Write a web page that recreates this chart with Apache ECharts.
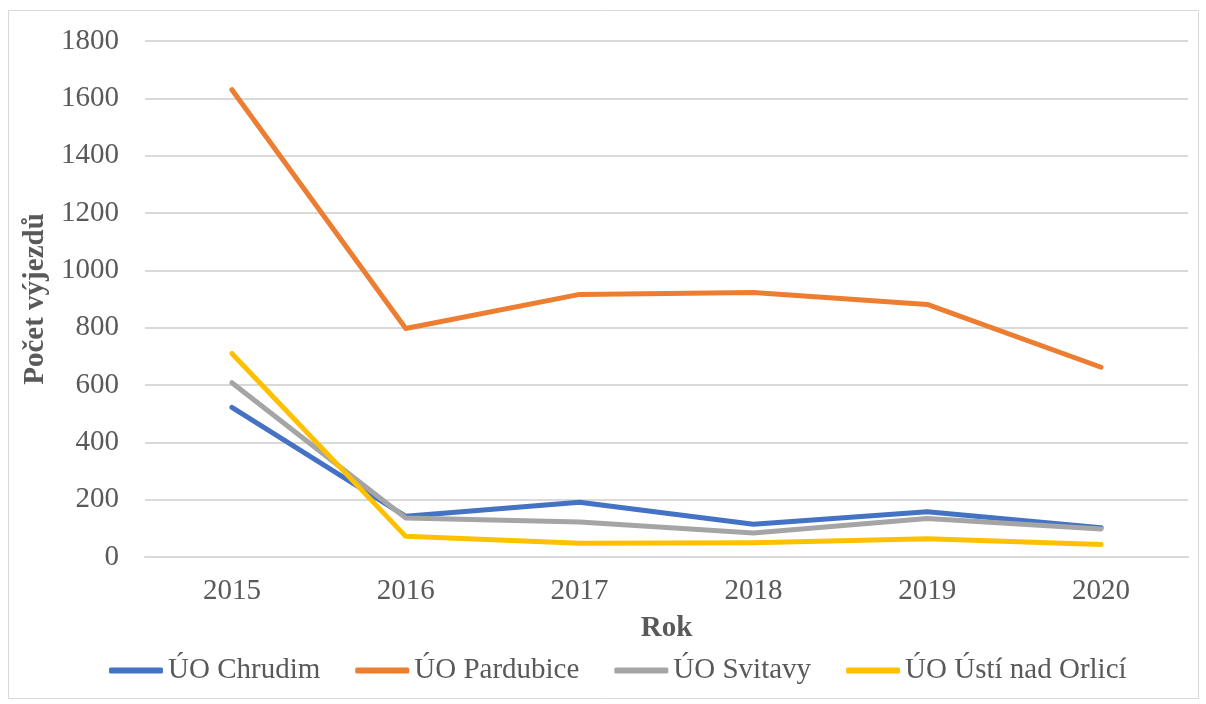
<!DOCTYPE html>
<html>
<head>
<meta charset="utf-8">
<script src="https://cdn.jsdelivr.net/npm/echarts@6/dist/echarts.min.js"></script>
<style>html,body{margin:0;padding:0;background:#fff;}#c{width:1206px;height:704px;}</style>
</head>
<body>
<div id="c"></div>
<script>
const years = ['2015', '2016', '2017', '2018', '2019', '2020'];
const chrudim = [522, 142, 191, 114, 158, 102];
const pardubice = [1630, 797, 916, 923, 881, 662];
const svitavy = [608, 136, 122, 84, 134, 98];
const usti = [710, 72, 48, 50, 64, 44];
const seriesNames = ['ÚO Chrudim', 'ÚO Pardubice', 'ÚO Svitavy', 'ÚO Ústí nad Orlicí'];
const colors = ['#4472C4', '#ED7D31', '#A5A5A5', '#FFC000'];
const dataSets = [chrudim, pardubice, svitavy, usti];

const font = 'Liberation Serif, Times New Roman, serif';
const chart = echarts.init(document.getElementById('c'));
chart.setOption({
  animation: false,
  textStyle: { fontFamily: font },
  graphic: [{
    type: 'rect', silent: true,
    shape: { x: 8.5, y: 10.5, width: 1190, height: 688 },
    style: { fill: 'none', stroke: '#d9d9d9', lineWidth: 1 }
  }],
  grid: { left: 145, right: 18, top: 41, bottom: 147, containLabel: false },
  xAxis: {
    type: 'category',
    data: years,
    boundaryGap: true,
    name: 'Rok',
    nameLocation: 'middle',
    nameGap: 57,
    nameTextStyle: { fontFamily: font, fontSize: 29, fontWeight: 'bold', color: '#595959' },
    axisLine: { lineStyle: { color: '#d9d9d9', width: 2 } },
    axisTick: { show: false },
    axisLabel: { fontFamily: font, fontSize: 29, color: '#595959', margin: 20 }
  },
  yAxis: {
    type: 'value',
    min: 0, max: 1800, interval: 200,
    name: 'Počet výjezdů',
    nameLocation: 'middle',
    nameGap: 81,
    nameTextStyle: { fontFamily: font, fontSize: 29, fontWeight: 'bold', color: '#595959' },
    axisLine: { show: false },
    axisTick: { show: false },
    axisLabel: { fontFamily: font, fontSize: 29, color: '#595959', margin: 26, formatter: v => String(v) },
    splitLine: { lineStyle: { color: '#d9d9d9', width: 2 } }
  },
  legend: {
    left: 104,
    top: 651,
    itemWidth: 54,
    itemHeight: 6,
    itemGap: 35,
    icon: 'roundRect',
    textStyle: { fontFamily: font, fontSize: 29, color: '#595959' },
    data: seriesNames
  },
  series: dataSets.map((d, i) => ({
    name: seriesNames[i],
    type: 'line',
    data: d,
    color: colors[i],
    showSymbol: false,
    symbol: 'none',
    lineStyle: { width: 5, color: colors[i], cap: 'round', join: 'round' },
    emphasis: { disabled: true }
  }))
});
</script>
</body>
</html>
